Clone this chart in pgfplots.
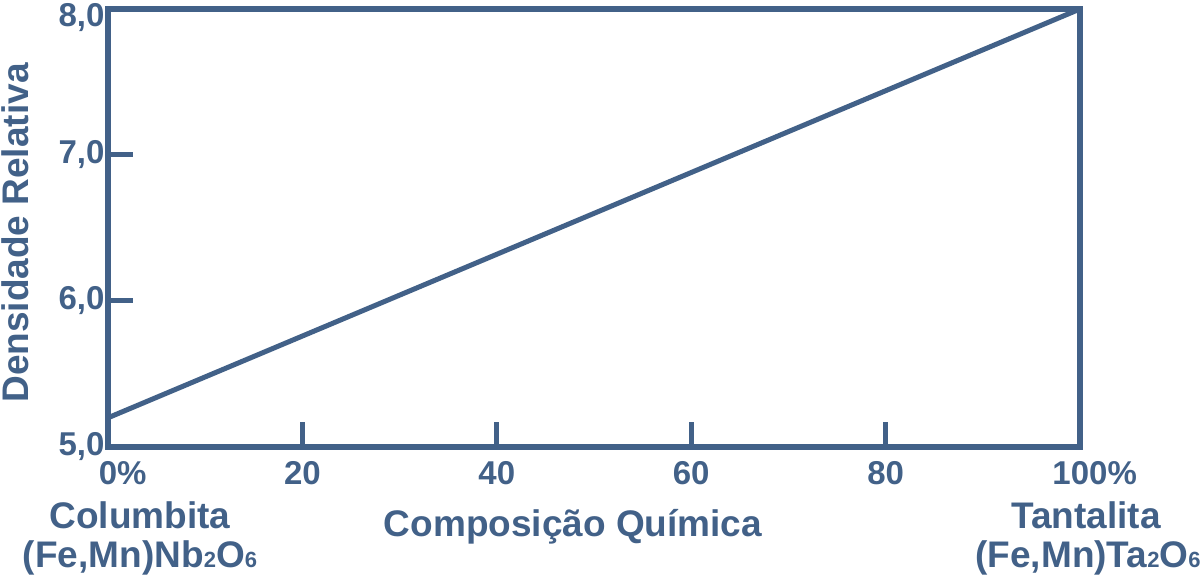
\documentclass[border=0pt]{standalone}
\usepackage{fontspec}
\setmainfont{Liberation Sans}
\usepackage{pgfplots}
\pgfplotsset{compat=1.18}
\definecolor{sb}{RGB}{66,97,136}
\newcommand{\sub}[1]{{\fontsize{22bp}{22bp}\selectfont #1}}
\begin{document}
\begin{tikzpicture}[x=1bp,y=1bp]
\useasboundingbox (0,0) rectangle (1204,581);
\begin{axis}[
  at={(108bp,134bp)}, anchor=south west,
  scale only axis, width=972bp, height=438bp,
  xmin=0, xmax=100, ymin=5, ymax=8,
  axis line style={line width=5.5bp, draw=sb},
  every tick/.style={draw=sb, line width=5bp},
  major tick length=25bp, tick align=inside,
  xtick pos=bottom, ytick pos=left,
  xtick={0,20,40,60,80,100},
  xticklabels={0\rlap{\%},20,40,60,80,100\rlap{\%}},
  ytick={5,6,7},
  yticklabels={5{,}0,6{,}0,7{,}0},
  extra y ticks={8},
  extra y tick labels={8{,}0},
  extra y tick style={yticklabel style={yshift=-9bp}},
  ticklabel style={font=\fontsize{33bp}{33bp}\selectfont\bfseries, text=sb},
  xticklabel style={yshift=-11bp},
  clip=false,
]
\addplot[draw=sb, line width=5bp, line cap=round] coordinates {(0,5.2) (100,8.0)};
\end{axis}
\begin{scope}[every node/.style={font=\fontsize{37bp}{37bp}\selectfont\bfseries, text=sb, inner sep=0pt}]
\node[anchor=base] at (140,52) {Columbita};
\node[anchor=base] at (140,13) {(Fe,Mn)Nb\sub{2}O\sub{6}};
\node[anchor=base] at (573,44) {Composição Química};
\node[anchor=base] at (1086,52) {Tantalita};
\node[anchor=base] at (1088,13) {(Fe,Mn)Ta\sub{2}O\sub{6}};
\node[rotate=90] at (15,348) {Densidade Relativa};
\end{scope}
\end{tikzpicture}
\end{document}
